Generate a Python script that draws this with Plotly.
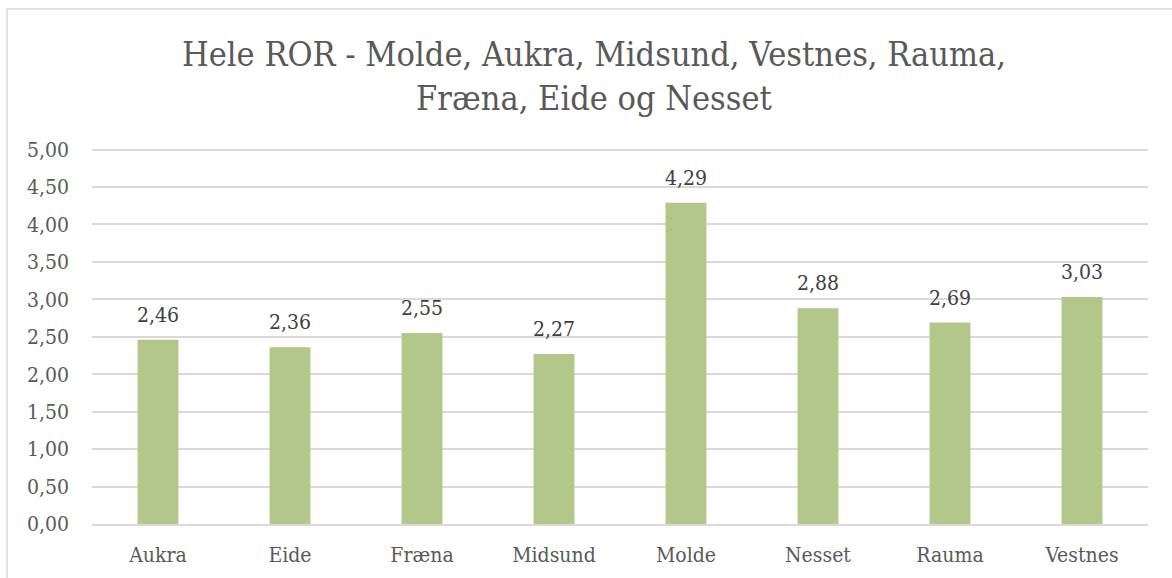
import plotly.graph_objects as go

categories = ["Aukra", "Eide", "Fræna", "Midsund", "Molde", "Nesset", "Rauma", "Vestnes"]
values = [2.46, 2.36, 2.55, 2.27, 4.29, 2.88, 2.69, 3.03]
tick_vals = [0, 0.5, 1.0, 1.5, 2.0, 2.5, 3.0, 3.5, 4.0, 4.5, 5.0]
title_text = "Hele ROR - Molde, Aukra, Midsund, Vestnes, Rauma,<br>Fræna, Eide og Nesset"

FONT = "DejaVu Serif Condensed, DejaVu Serif"
W, H = 1172, 578
L, R, T, B = 92, 24, 148, 54
pw, ph = W - L - R, H - T - B

fig = go.Figure(go.Bar(
    x=categories, y=values, width=0.31,
    marker=dict(color="#B3C78A", line=dict(width=0)),
    hoverinfo="x+y",
))

for c, v in zip(categories, values):
    fig.add_annotation(x=c, y=v, text=f"{v:.2f}".replace(".", ","), showarrow=False,
                       xanchor="center", yanchor="bottom", yshift=11,
                       font=dict(family=FONT, size=21, color="#404040"))

fig.update_layout(
    width=W, height=H, separators=",.",
    margin=dict(l=L, r=R, t=T, b=B),
    paper_bgcolor="white", plot_bgcolor="white",
    showlegend=False,
    title=dict(text=title_text, x=594 / W, xref="container", xanchor="center",
               y=1 - 66 / H, yref="container", yanchor="middle",
               font=dict(family=FONT, size=34, color="#595959")),
    font=dict(family=FONT, color="#595959", size=21),
)
fig.update_xaxes(showgrid=False, showline=True, linecolor="#D9D9D9", linewidth=1.5,
                 ticks="", ticklabelstandoff=11, tickfont=dict(size=21, color="#595959"))
fig.update_yaxes(range=[0, 5.02], tickvals=tick_vals, tickformat=".2f", showgrid=True,
                 gridcolor="#D9D9D9", gridwidth=1.5, zeroline=False, showline=False,
                 ticks="", ticklabelstandoff=22, tickfont=dict(size=21, color="#595959"))

fig.add_shape(type="rect", xref="paper", yref="paper",
              x0=(7 - L) / pw, x1=(1190 - L) / pw,
              y0=-(600 - (H - B)) / ph, y1=1 + (T - 9) / ph,
              line=dict(color="#D9D9D9", width=1.5), fillcolor="rgba(0,0,0,0)", layer="below")

fig.write_html("out.html", config={"displayModeBar": False},
               post_script="document.body.style.margin='0';")
